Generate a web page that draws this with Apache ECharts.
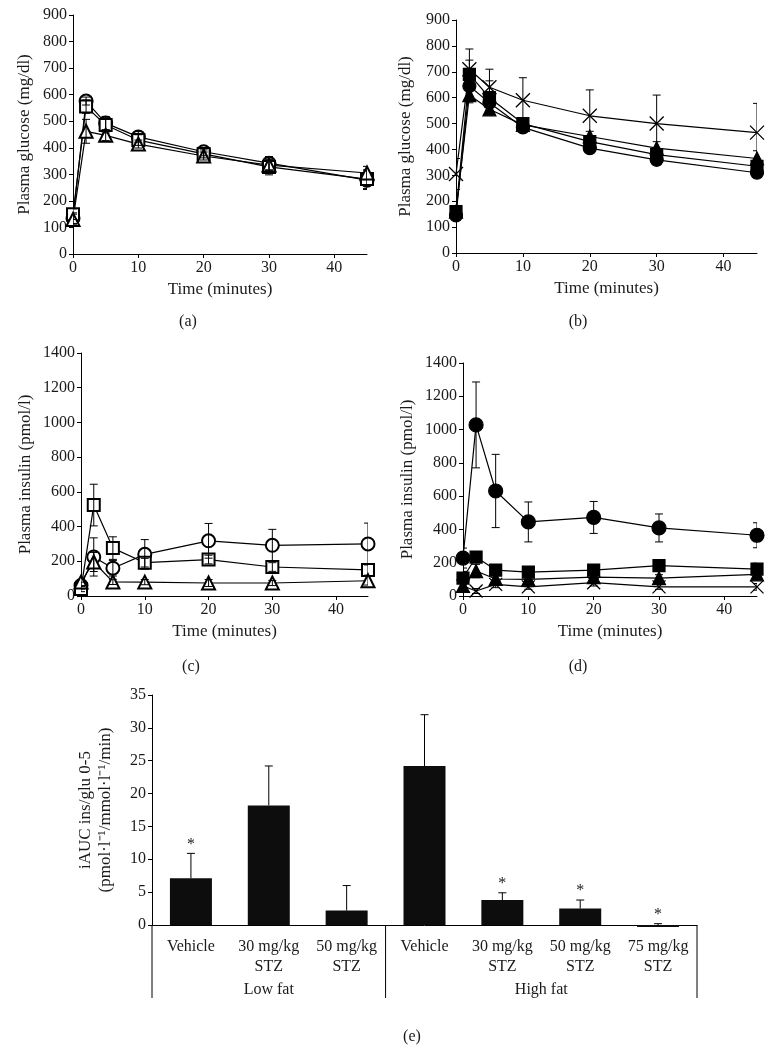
<!DOCTYPE html>
<html><head><meta charset="utf-8">
<script src="https://cdn.jsdelivr.net/npm/echarts@6/dist/echarts.min.js"></script>
<style>html,body{margin:0;padding:0;background:#fff}#c{width:775px;height:1054px}</style>
</head><body><div id="c"></div>
<script>
// ---- data ----
const timeMin = [0, 2, 5, 10, 20, 30, 45];
const timeTicks = [0, 10, 20, 30, 40];

// (a) plasma glucose, low fat
const glucLF_circle   = [135, 576, 493, 441, 385, 342, 278];
const glucLF_circleE  = [20, 15, 25, 20, 15, 25, 35];
const glucLF_square   = [150, 555, 486, 429, 377, 328, 282];
const glucLF_squareE  = [20, 25, 30, 20, 15, 30, 35];
const glucLF_tri      = [130, 462, 447, 414, 369, 335, 305];
const glucLF_triE     = [20, 45, 20, 15, 15, 20, 25];

// (b) plasma glucose, high fat
const glucHF_circle   = [145, 645, 580, 485, 405, 360, 310];
const glucHF_circleE  = [15, 40, 30, 20, 20, 20, 20];
const glucHF_square   = [160, 690, 600, 500, 430, 380, 335];
const glucHF_squareE  = [20, 55, 65, 20, 20, 20, 20];
const glucHF_tri      = [160, 610, 555, 495, 450, 405, 365];
const glucHF_triE     = [20, 30, 20, 20, 20, 25, 30];
const glucHF_cross    = [305, 710, 640, 590, 530, 500, 465];
const glucHF_crossE   = [60, 78, 70, 87, 100, 110, 113];

// (c) plasma insulin, low fat
const insLF_circle    = [60, 225, 160, 240, 318, 292, 300];
const insLF_circleE   = [20, 110, 45, 85, 100, 92, 120];
const insLF_square    = [40, 524, 276, 192, 210, 167, 150];
const insLF_squareE   = [15, 120, 65, 25, 25, 25, 30];
const insLF_tri       = [80, 196, 81, 80, 75, 75, 88];
const insLF_triE      = [20, 55, 15, 15, 20, 15, 25];

// (d) plasma insulin, high fat
const insHF_circle    = [228, 1028, 631, 445, 472, 409, 365];
const insHF_circleE   = [60, 258, 220, 120, 96, 84, 75];
const insHF_square    = [108, 234, 156, 144, 156, 182, 162];
const insHF_squareE   = [40, 30, 20, 20, 20, 30, 35];
const insHF_tri       = [60, 150, 102, 100, 114, 108, 130];
const insHF_triE      = [30, 40, 20, 20, 20, 20, 25];
const insHF_cross     = [60, 30, 70, 55, 80, 55, 55];
const insHF_crossE    = [20, 15, 20, 15, 20, 15, 20];

// (e) iAUC
const iaucGroups = ['Vehicle', '30 mg/kg\nSTZ', '50 mg/kg\nSTZ', 'Vehicle', '30 mg/kg\nSTZ', '50 mg/kg\nSTZ', '75 mg/kg\nSTZ'];
const iaucMean   = [7.1, 18.2, 2.2, 24.2, 3.8, 2.5, -0.3];
const iaucErr    = [3.8, 6.0, 3.8, 7.8, 1.1, 1.3, 0.5];
const iaucSig    = [1, 0, 0, 0, 1, 1, 1];
const dietGroups = [{name: 'Low fat', from: 0, to: 2}, {name: 'High fat', from: 3, to: 6}];

// ---- styling helpers ----
const FONT = 'Liberation Serif';
const TXT = '#1a1a1a';
const crossPath = 'path://M0,0L10,10M0,10L10,0';
const plainNum = v => String(v);

function xAxisTime(gi) {
  return {
    type: 'value', gridIndex: gi, min: 0, max: 45, interval: 10,
    name: 'Time (minutes)', nameLocation: 'middle', nameGap: 27,
    nameTextStyle: {fontFamily: FONT, fontSize: 17, color: TXT},
    axisLine: {lineStyle: {color: '#000', width: 1}},
    axisTick: {length: 4, customValues: timeTicks, lineStyle: {color: '#000'}},
    axisLabel: {customValues: timeTicks, formatter: plainNum, fontFamily: FONT, fontSize: 16, color: TXT, margin: 6},
    splitLine: {show: false}
  };
}
function yAxisVal(gi, max, interval, name, gap) {
  return {
    type: 'value', gridIndex: gi, min: 0, max: max, interval: interval,
    name: name, nameLocation: 'middle', nameGap: gap,
    nameTextStyle: {fontFamily: FONT, fontSize: 17, color: TXT, lineHeight: 20},
    axisLine: {show: true, lineStyle: {color: '#000', width: 1}},
    axisTick: {show: true, length: 4, lineStyle: {color: '#000'}},
    axisLabel: {formatter: plainNum, fontFamily: FONT, fontSize: 16, color: TXT, margin: 6},
    splitLine: {show: false}
  };
}
function lineS(gi, vals, symbol, size) {
  return {
    type: 'line', xAxisIndex: gi, yAxisIndex: gi,
    data: timeMin.map((t, i) => [t, vals[i]]),
    symbol: symbol, symbolSize: size, showAllSymbol: true,
    lineStyle: {color: '#000', width: 1.2},
    itemStyle: symbol === crossPath
      ? {color: 'transparent', borderColor: '#000', borderWidth: 1.3}
      : {color: '#000', borderColor: '#000', borderWidth: 1.2},
    z: 2, animation: false
  };
}
function errRender(params, api) {
  const x = api.value(0), y = api.value(1), e = api.value(2), upOnly = api.value(3);
  const top = api.coord([x, y + e]);
  const bot = upOnly ? api.coord([x, y]) : api.coord([x, y - e]);
  const w = 4;
  const st = {stroke: '#000', lineWidth: 1};
  const ch = [
    {type: 'line', shape: {x1: top[0], y1: top[1], x2: bot[0], y2: bot[1]}, style: st},
    {type: 'line', shape: {x1: top[0] - w, y1: top[1], x2: top[0] + w, y2: top[1]}, style: st}
  ];
  if (!upOnly) ch.push({type: 'line', shape: {x1: bot[0] - w, y1: bot[1], x2: bot[0] + w, y2: bot[1]}, style: st});
  return {type: 'group', children: ch};
}
function errS(gi, vals, errs) {
  return {
    type: 'custom', xAxisIndex: gi, yAxisIndex: gi, clip: true,
    data: timeMin.map((t, i) => [t, vals[i], errs[i], 0]),
    renderItem: errRender, z: 3, silent: true, animation: false
  };
}

const grids = [
  {left: 73, top: 15, width: 294, height: 239},
  {left: 456, top: 20, width: 301, height: 233},
  {left: 81, top: 353, width: 287, height: 243},
  {left: 463, top: 363, width: 294, height: 233},
  {left: 152, top: 695, width: 545, height: 230}
];

const series = [
  // a
  lineS(0, glucLF_circle, 'emptyCircle', 13), lineS(0, glucLF_square, 'emptyRect', 12), lineS(0, glucLF_tri, 'emptyTriangle', 13),
  errS(0, glucLF_circle, glucLF_circleE), errS(0, glucLF_square, glucLF_squareE), errS(0, glucLF_tri, glucLF_triE),
  // b
  lineS(1, glucHF_cross, crossPath, 14), lineS(1, glucHF_circle, 'circle', 13), lineS(1, glucHF_square, 'rect', 12), lineS(1, glucHF_tri, 'triangle', 13),
  errS(1, glucHF_cross, glucHF_crossE), errS(1, glucHF_circle, glucHF_circleE), errS(1, glucHF_square, glucHF_squareE), errS(1, glucHF_tri, glucHF_triE),
  // c
  lineS(2, insLF_circle, 'emptyCircle', 13), lineS(2, insLF_square, 'emptyRect', 12), lineS(2, insLF_tri, 'emptyTriangle', 13),
  errS(2, insLF_circle, insLF_circleE), errS(2, insLF_square, insLF_squareE), errS(2, insLF_tri, insLF_triE),
  // d
  lineS(3, insHF_cross, crossPath, 13), lineS(3, insHF_circle, 'circle', 14), lineS(3, insHF_square, 'rect', 12), lineS(3, insHF_tri, 'triangle', 13),
  errS(3, insHF_cross, insHF_crossE), errS(3, insHF_circle, insHF_circleE), errS(3, insHF_square, insHF_squareE), errS(3, insHF_tri, insHF_triE),
  // e
  {
    type: 'bar', xAxisIndex: 4, yAxisIndex: 4, data: iaucMean, barWidth: 42, clip: false,
    itemStyle: {color: '#0d0d0d'}, z: 2, animation: false
  },
  {
    type: 'custom', xAxisIndex: 4, yAxisIndex: 4, clip: false, z: 3, silent: true, animation: false,
    data: iaucMean.map((m, i) => [i, m, iaucErr[i], 1]),
    renderItem: errRender
  },
  {
    type: 'custom', xAxisIndex: 4, yAxisIndex: 4, clip: false, z: 3, silent: true, animation: false,
    data: iaucMean.map((m, i) => [i, m + iaucErr[i], iaucSig[i]]),
    renderItem: function (params, api) {
      if (!api.value(2)) return null;
      const p = api.coord([api.value(0), api.value(1)]);
      return {type: 'text', x: p[0], y: p[1] - 9,
        style: {text: '*', fontFamily: FONT, fontSize: 16, fill: TXT, align: 'center', verticalAlign: 'middle'}};
    }
  }
];

const option = {
  backgroundColor: '#fff',
  animation: false,
  grid: grids,
  xAxis: [
    xAxisTime(0), xAxisTime(1), xAxisTime(2), xAxisTime(3),
    {
      type: 'category', gridIndex: 4, data: iaucGroups,
      axisLine: {lineStyle: {color: '#000', width: 1}},
      axisTick: {show: false},
      axisLabel: {interval: 0, fontFamily: FONT, fontSize: 16, color: TXT, margin: 12, lineHeight: 20},
      splitLine: {show: false}
    }
  ],
  yAxis: [
    yAxisVal(0, 900, 100, 'Plasma glucose (mg/dl)', 38),
    yAxisVal(1, 900, 100, 'Plasma glucose (mg/dl)', 40),
    yAxisVal(2, 1400, 200, 'Plasma insulin (pmol/l)', 45),
    yAxisVal(3, 1400, 200, 'Plasma insulin (pmol/l)', 45),
    yAxisVal(4, 35, 5, 'iAUC ins/glu 0-5\n(pmol·l⁻¹/mmol·l⁻¹/min)', 36)
  ],
  series: series
};

const chart = echarts.init(document.getElementById('c'), null, {renderer: 'canvas'});
chart.setOption(option);

// brackets and group labels under panel (e), positioned through the axes
const cx = i => chart.convertToPixel({xAxisIndex: 4}, i);
const band = cx(1) - cx(0);
const y0 = chart.convertToPixel({yAxisIndex: 4}, 0);
const bracketLen = 73;
const gfx = [];
const edges = [cx(0) - band / 2, cx(dietGroups[1].from) - band / 2, cx(6) + band / 2];
edges.forEach(x => gfx.push({type: 'line', shape: {x1: x, y1: y0, x2: x, y2: y0 + bracketLen}, style: {stroke: '#000', lineWidth: 1}}));
dietGroups.forEach(g => {
  const xc = (cx(g.from) + cx(g.to)) / 2;
  gfx.push({type: 'text', x: xc, y: y0 + 65, style: {text: g.name, fontFamily: FONT, fontSize: 16, fill: TXT, align: 'center', verticalAlign: 'middle'}});
});
// panel letters
[['(a)', 188, 322], ['(b)', 578, 322], ['(c)', 191, 667], ['(d)', 578, 667], ['(e)', 412, 1037]].forEach(p => {
  gfx.push({type: 'text', x: p[1], y: p[2], style: {text: p[0], fontFamily: FONT, fontSize: 16, fill: TXT, align: 'center', verticalAlign: 'middle'}});
});
chart.setOption({graphic: gfx});
</script>
</body></html>
